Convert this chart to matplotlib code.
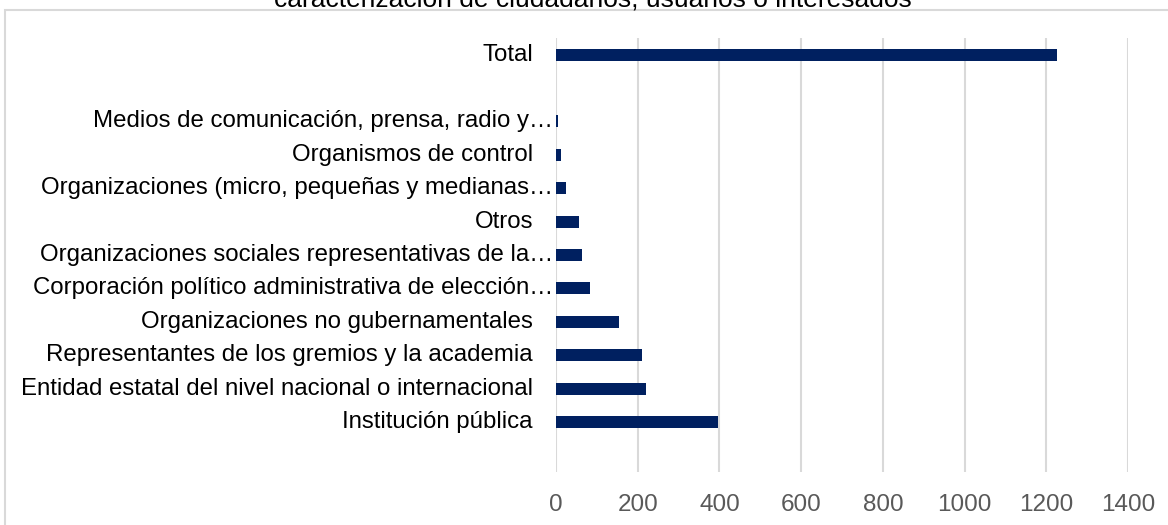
import matplotlib
matplotlib.use("Agg")
import matplotlib.pyplot as plt
import matplotlib.transforms as mtransforms
from matplotlib.patches import Rectangle

plt.rcParams['font.family'] = ['Liberation Sans', 'DejaVu Sans']

# data, bottom to top (Total sits above a blank row)
categories = [
    "Institución pública",
    "Entidad estatal del nivel nacional o internacional",
    "Representantes de los gremios y la academia",
    "Organizaciones no gubernamentales",
    "Corporación político administrativa de elección…",
    "Organizaciones sociales representativas de la…",
    "Otros",
    "Organizaciones (micro, pequeñas y medianas…",
    "Organismos de control",
    "Medios de comunicación, prensa, radio y…",
    "Total",
]
values = [396, 220, 211, 155, 84, 63, 56, 24, 13, 5, 1227]
x_ticks = [0, 200, 400, 600, 800, 1000, 1200, 1400]
title = "caracterización de ciudadanos, usuarios o interesados"

bar_color = "#002060"
grid_color = "#d9d9d9"

fig = plt.figure(figsize=(11.68, 5.25), dpi=100)
ax = fig.add_axes([556 / 1168, 1 - 472 / 525, (1128 - 556) / 1168, (472 - 38) / 525])

# one empty slot between the detail rows and Total
ypos = list(range(len(categories) - 1)) + [len(categories)]
ax.barh(ypos, values, height=0.36, color=bar_color, zorder=3)

ax.set_xlim(0, 1400)
ax.set_ylim(-1.5, 11.5)
ax.set_xticks(x_ticks)
ax.set_xticklabels([str(t) for t in x_ticks], fontsize=17.5, color="#595959")
ax.tick_params(axis='x', length=0, pad=16)
ax.set_yticks([])
ax.grid(axis='x', color=grid_color, linewidth=1.5, zorder=0)
for s in ax.spines.values():
    s.set_visible(False)

# category labels; truncated ones run right up to the axis like Excel does
for y, lab in zip(ypos, categories):
    off = -3 if lab.endswith("…") else -23
    tr = mtransforms.offset_copy(ax.get_yaxis_transform(), fig=fig, x=off, y=0, units='dots')
    ax.text(0, y, lab, transform=tr, ha='right', va='center', fontsize=17.3, color="black")

# chart border and title (cut by the top edge, as in the source image)
fig.patches.append(Rectangle((5 / 1168, -0.1), 1.1, 1 - 10 / 525 + 0.1, transform=fig.transFigure,
                             fill=False, edgecolor=grid_color, linewidth=1.5))
fig.text(593 / 1168, 1 - 6 / 525, title, ha='center', va='baseline', fontsize=19, color="black")

fig.savefig("out.png", dpi=100)
